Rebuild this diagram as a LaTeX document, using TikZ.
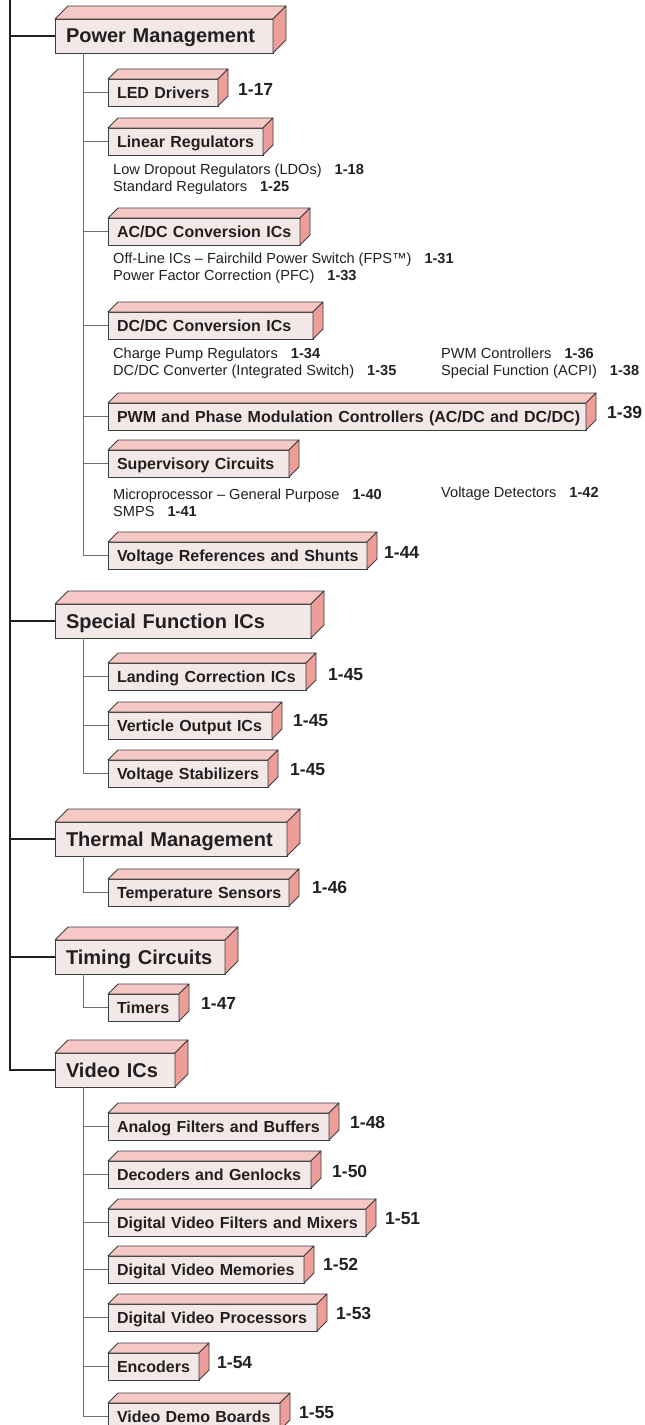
\documentclass[tikz,border=0pt]{standalone}
\usepackage{fontspec}
\setmainfont{Liberation Sans}
\usepackage{xcolor}
\usetikzlibrary{positioning}

\definecolor{frontpink}{RGB}{243,232,232}
\definecolor{toppink}{RGB}{245,200,198}
\definecolor{sidepink}{RGB}{238,158,152}
\definecolor{edgegray}{RGB}{60,60,60}
\definecolor{inkblack}{RGB}{35,31,32}
\definecolor{twiggray}{RGB}{110,110,110}

\hyphenpenalty=10000

\newcommand{\boxfaces}[2]{%
  \filldraw[topface] (#1.north west) -- ++(#2,-#2) -- ([shift={(#2,-#2)}]#1.north east) -- (#1.north east) -- cycle;
  \filldraw[sideface] (#1.north east) -- ++(#2,-#2) -- ([shift={(#2,-#2)}]#1.south east) -- (#1.south east) -- cycle;
}
\newcommand{\itemno}[2][13pt]{\hspace{#1}\textbf{#2}}

\begin{document}
\begin{tikzpicture}[
    x=1pt, y=-1pt,
    facebox/.style = {
        draw=edgegray, fill=frontpink, line width=0.8pt, outer sep=0pt,
        anchor=north west, align=left, text=inkblack, text depth=0pt,
        execute at begin node={\hbox\bgroup}, execute at end node={\egroup}
    },
    mainbox/.style = {
        facebox, minimum height=34pt, inner xsep=11pt, text width=#1-22pt,
        font=\fontsize{20}{24}\selectfont\bfseries
    },
    subbox/.style = {
        facebox, minimum height=27pt, inner xsep=9pt, text width=#1-18pt,
        font=\fontsize{16}{19}\selectfont\bfseries
    },
    topface/.style = {fill=toppink, draw=edgegray, line width=0.8pt, line join=round},
    sideface/.style = {fill=sidepink, draw=edgegray, line width=0.8pt, line join=round},
    pagenum/.style = {inner sep=0pt, text=inkblack, font=\fontsize{17.5}{21}\selectfont\bfseries},
    itemlist/.style = {anchor=west, inner sep=0pt, align=left, text=inkblack,
        font=\fontsize{14.6}{17}\selectfont},
    trunk/.style = {draw=inkblack, line width=1.8pt},
    twig/.style = {draw=twiggray, line width=1pt}
]
\useasboundingbox (0,0) rectangle (645,1425);
\coordinate (trunktop) at (10,0);

\node[mainbox=218pt] (pm) at (55,19) {Power Management};
\node[subbox=110pt] (led) at (108,79) {LED Drivers};
\node[pagenum, right=20pt of led, yshift=3pt] (led-p) {1-17};
\node[subbox=155pt] (lin) at (108,128) {Linear Regulators};
\node[itemlist] (lin-items) at (113,179.5) {Low Dropout Regulators (LDOs)\itemno{1-18}\\Standard Regulators\itemno{1-25}};
\node[subbox=192pt] (acdc) at (108,218) {AC/DC Conversion ICs};
\node[itemlist] (acdc-items) at (113,268.5) {Off-Line ICs – Fairchild Power Switch (FPS™)\itemno{1-31}\\Power Factor Correction (PFC)\itemno{1-33}};
\node[subbox=205pt] (dcdc) at (108,312) {DC/DC Conversion ICs};
\node[itemlist] (dcdc-items) at (113,363.5) {Charge Pump Regulators\itemno{1-34}\\DC/DC Converter (Integrated Switch)\itemno{1-35}};
\node[itemlist] (dcdc-more) at (441,363.5) {PWM Controllers\itemno{1-36}\\Special Function (ACPI)\itemno{1-38}};
\node[subbox=478pt] (pwm) at (108,403) {PWM and Phase Modulation Controllers (AC/DC and DC/DC)};
\node[pagenum, right=21pt of pwm, yshift=4.5pt] (pwm-p) {1-39};
\node[subbox=181pt] (sup) at (108,450) {Supervisory Circuits};
\node[itemlist] (sup-items) at (113,502.5) {Microprocessor – General Purpose\itemno{1-40}\\SMPS\itemno{1-41}};
\node[itemlist] (sup-more) at (441,494) {Voltage Detectors\itemno{1-42}};
\node[subbox=259pt] (vref) at (108,542) {Voltage References and Shunts};
\node[pagenum, right=17pt of vref, yshift=3pt] (vref-p) {1-44};

\node[mainbox=256pt] (sf) at (55,604) {Special Function ICs};
\node[subbox=198pt] (land) at (108,663) {Landing Correction ICs};
\node[pagenum, right=22pt of land, yshift=2pt] (land-p) {1-45};
\node[subbox=164pt] (vout) at (108,712) {Verticle Output ICs};
\node[pagenum, right=21pt of vout, yshift=5pt] (vout-p) {1-45};
\node[subbox=160pt] (vstab) at (108,760) {Voltage Stabilizers};
\node[pagenum, right=22pt of vstab, yshift=4pt] (vstab-p) {1-45};

\node[mainbox=232pt] (tm) at (55,822) {Thermal Management};
\node[subbox=181pt] (temp) at (108,879) {Temperature Sensors};
\node[pagenum, right=23pt of temp, yshift=5pt] (temp-p) {1-46};

\node[mainbox=170pt] (tc) at (55,940) {Timing Circuits};
\node[subbox=71pt] (timer) at (108,994) {Timers};
\node[pagenum, right=22pt of timer, yshift=4pt] (timer-p) {1-47};

\node[mainbox=120pt] (vi) at (55,1053) {Video ICs};
\node[subbox=221pt] (afb) at (108,1113) {Analog Filters and Buffers};
\node[pagenum, right=21pt of afb, yshift=4pt] (afb-p) {1-48};
\node[subbox=203pt] (dec) at (108,1161) {Decoders and Genlocks};
\node[pagenum, right=21pt of dec, yshift=3pt] (dec-p) {1-50};
\node[subbox=258pt] (dvfm) at (108,1209) {Digital Video Filters and Mixers};
\node[pagenum, right=19pt of dvfm, yshift=4pt] (dvfm-p) {1-51};
\node[subbox=196pt] (dvm) at (108,1256) {Digital Video Memories};
\node[pagenum, right=19pt of dvm, yshift=5pt] (dvm-p) {1-52};
\node[subbox=209pt] (dvp) at (108,1304) {Digital Video Processors};
\node[pagenum, right=19pt of dvp, yshift=4pt] (dvp-p) {1-53};
\node[subbox=91pt] (enc) at (108,1353) {Encoders};
\node[pagenum, right=18pt of enc, yshift=4pt] (enc-p) {1-54};
\node[subbox=172pt] (vdb) at (108,1403) {Video Demo Boards};
\node[pagenum, right=19pt of vdb, yshift=4pt] (vdb-p) {1-55};

\foreach \b in {pm,sf,tm,tc,vi}
    \boxfaces{\b}{13};
\foreach \b in {led,lin,acdc,dcdc,pwm,sup,vref,land,vout,vstab,temp,timer,afb,dec,dvfm,dvm,dvp,enc,vdb}
    \boxfaces{\b}{10};

\draw[trunk] (trunktop) |- (vi.west);
\foreach \b in {pm,sf,tm,tc}
    \draw[trunk] (\b.west) -- (\b.west -| trunktop);

\draw[twig] ([xshift=28pt]pm.south west) coordinate (pmstem) |- (vref.west);
\foreach \s in {led,lin,acdc,dcdc,pwm,sup}
    \draw[twig] (\s.west) -- (\s.west -| pmstem);
\draw[twig] ([xshift=28pt]sf.south west) coordinate (sfstem) |- (vstab.west);
\foreach \s in {land,vout}
    \draw[twig] (\s.west) -- (\s.west -| sfstem);
\draw[twig] ([xshift=28pt]tm.south west) |- (temp.west);
\draw[twig] ([xshift=28pt]tc.south west) |- (timer.west);
\draw[twig] ([xshift=28pt]vi.south west) coordinate (vistem) |- (vdb.west);
\foreach \s in {afb,dec,dvfm,dvm,dvp,enc}
    \draw[twig] (\s.west) -- (\s.west -| vistem);
\end{tikzpicture}
\end{document}
